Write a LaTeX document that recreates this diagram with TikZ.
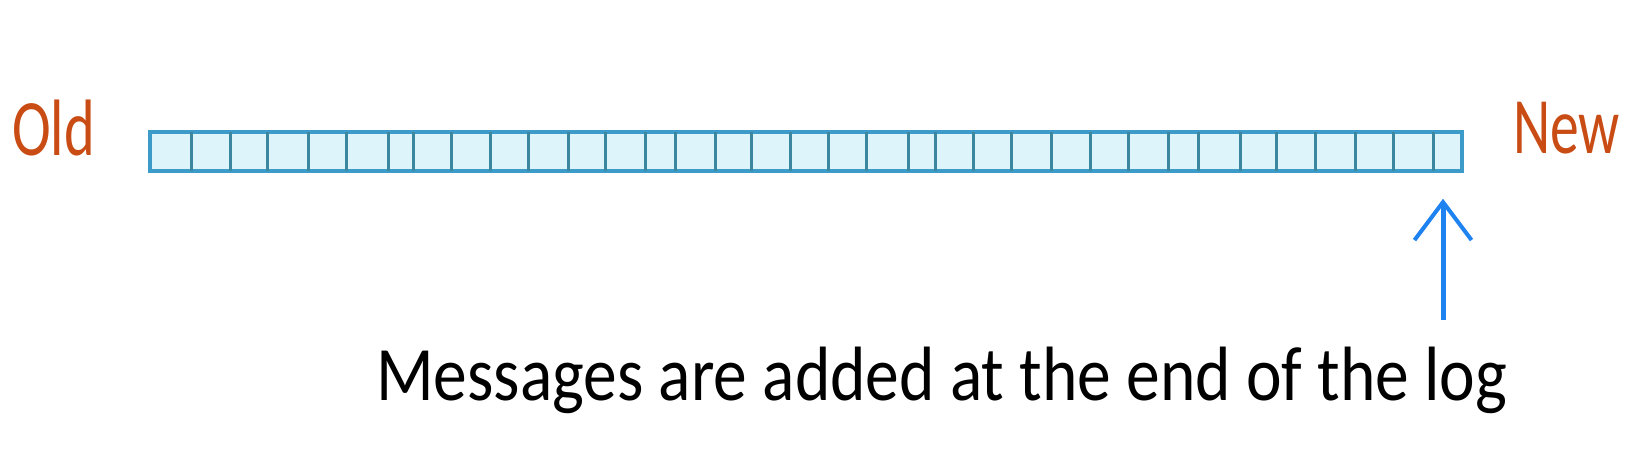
\documentclass[tikz,border=0pt]{standalone}
\usepackage{fontspec}
\setmainfont{Carlito}
\usepackage{tikz}
\usetikzlibrary{arrows.meta,calc}
\definecolor{NaranjaTexto}{RGB}{200,76,20}
\definecolor{AzulFlecha}{RGB}{30,130,240}
\definecolor{BordeLog}{RGB}{60,155,200}
\definecolor{LineaCelda}{RGB}{60,135,160}
\definecolor{FondoLog}{RGB}{222,244,251}

\begin{document}
\begin{tikzpicture}[x=1pt, y=1pt, >={Straight Barb[length=38pt,width=57pt,line width=4pt]}]
    \useasboundingbox (0,0) rectangle (1649,-455);

    \node[draw=BordeLog, fill=FondoLog, line width=3.5pt, inner sep=0pt,
          minimum width=1312pt, minimum height=39pt] (log) at (806,-151.5) {};
    \foreach \x in {191.7,230,267.7,308,346.7,388,413,451.7,490,528,568,
                    605,645,675,715,751.7,790,828.3,866.7,908.3,935,973.3,
                    1011.7,1051.7,1090,1128.3,1168.3,1198.3,1240,1276.7,
                    1315,1355,1393.3,1433.3}
        \draw[LineaCelda, line width=3pt] (\x,-132) -- (\x,-171);

    \node[anchor=base west, inner sep=0pt, NaranjaTexto,
          font=\fontsize{80}{96}\selectfont] (old) at (12,-155)
        {\scalebox{0.73}[1]{Old}};
    \node[anchor=base west, inner sep=0pt, NaranjaTexto,
          font=\fontsize{80}{96}\selectfont] (new) at (1513,-153)
        {\scalebox{0.72}[1]{New}};

    \coordinate (tail) at (1443,-320);
    \draw[->, AzulFlecha, line width=5pt, shorten >=26pt]
        (tail) -- (log.south -| tail);

    \node[anchor=base west, inner sep=0pt,
          font=\fontsize{77}{92}\selectfont] (msg) at (376,-400)
        {\scalebox{0.876}[1]{Messages are added at the end of the log}};
\end{tikzpicture}
\end{document}
